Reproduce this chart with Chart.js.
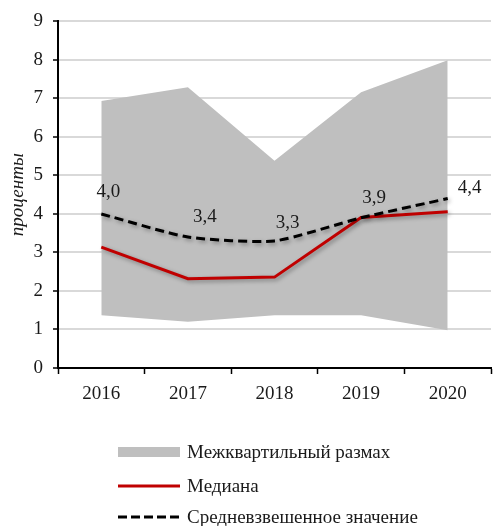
<!DOCTYPE html>
<html>
<head>
<meta charset="utf-8">
<script src="https://cdn.jsdelivr.net/npm/chart.js@4.4.1/dist/chart.umd.min.js"></script>
<style>
  html, body { margin: 0; padding: 0; background: #fff; }
  #wrap { width: 493px; height: 526px; }
</style>
</head>
<body>
<div id="wrap"><canvas id="chart"></canvas></div>
<script>
// values
const years = ["2016", "2017", "2018", "2019", "2020"];
const quartileLow = [1.37, 1.2, 1.37, 1.37, 0.98];
const quartileHigh = [6.93, 7.29, 5.38, 7.16, 7.99];
const medianValues = [3.14, 2.32, 2.36, 3.91, 4.06];
const meanValues = [4.0, 3.4, 3.3, 3.9, 4.4];
const yMin = 0, yMax = 9, yStep = 1;

const legendNames = ["Межквартильный размах", "Медиана", "Средневзвешенное значение"];
const axisTitle = "проценты";

const FONT = "'Liberation Serif', 'Times New Roman', serif";
const GREY = "#bfbfbf";
const RED = "#c00000";
const TEXT = "#1a1a1a";

// label nudges (Excel placed them by hand)
const labelShift = [[7, -22], [17, -20], [13, -18], [13, -20], [22, -11]];

const shadowPlugin = {
    id: "lineShadow",
    beforeDatasetDraw(chart, args) {
        if (args.index < 2) return;
        const ctx = chart.ctx;
        ctx.save();
        ctx.shadowColor = "rgba(0,0,0,0.35)";
        ctx.shadowBlur = 4;
        ctx.shadowOffsetX = 2;
        ctx.shadowOffsetY = 2;
    },
    afterDatasetDraw(chart, args) {
        if (args.index < 2) return;
        chart.ctx.restore();
    }
};

const extrasPlugin = {
    id: "extras",
    afterDraw(chart) {
        const ctx = chart.ctx;
        ctx.save();

        // mean value labels
        const meta = chart.getDatasetMeta(3);
        ctx.font = "19px " + FONT;
        ctx.fillStyle = TEXT;
        ctx.textAlign = "center";
        ctx.textBaseline = "middle";
        meta.data.forEach((pt, i) => {
            const s = labelShift[i];
            ctx.fillText(meanValues[i].toFixed(1).replace(".", ","), pt.x + s[0], pt.y + s[1]);
        });

        // y axis title
        ctx.save();
        ctx.translate(18, (chart.chartArea.top + chart.chartArea.bottom) / 2);
        ctx.rotate(-Math.PI / 2);
        ctx.font = "italic 19px " + FONT;
        ctx.fillText(axisTitle, 0, 0);
        ctx.restore();

        // legend
        const lx = 118, lw = 62, tx = 187;
        const rows = [452, 486, 517];
        ctx.textAlign = "left";
        ctx.font = "19px " + FONT;

        ctx.fillStyle = GREY;
        ctx.fillRect(lx, rows[0] - 5, lw, 10);

        ctx.strokeStyle = RED;
        ctx.lineWidth = 3;
        ctx.beginPath();
        ctx.moveTo(lx, rows[1]);
        ctx.lineTo(lx + lw, rows[1]);
        ctx.stroke();

        ctx.strokeStyle = "#000";
        ctx.setLineDash([9, 4]);
        ctx.beginPath();
        ctx.moveTo(lx, rows[2]);
        ctx.lineTo(lx + lw, rows[2]);
        ctx.stroke();
        ctx.setLineDash([]);

        ctx.fillStyle = TEXT;
        legendNames.forEach((name, i) => ctx.fillText(name, tx, rows[i] + 1));

        ctx.restore();
    }
};

const ctx = document.getElementById("chart");
new Chart(ctx, {
    type: "line",
    data: {
        labels: years,
        datasets: [
            {
                label: "q1",
                data: quartileLow,
                borderWidth: 0,
                pointRadius: 0,
                fill: false,
                order: 3
            },
            {
                label: legendNames[0],
                data: quartileHigh,
                borderWidth: 0,
                pointRadius: 0,
                backgroundColor: GREY,
                fill: "-1",
                order: 2
            },
            {
                label: legendNames[1],
                data: medianValues,
                borderColor: RED,
                borderWidth: 3,
                pointRadius: 0,
                fill: false,
                order: 1
            },
            {
                label: legendNames[2],
                data: meanValues,
                borderColor: "#000",
                borderWidth: 3,
                borderDash: [9, 5],
                pointRadius: 0,
                tension: 0.2,
                fill: false,
                order: 0
            }
        ]
    },
    options: {
        responsive: true,
        maintainAspectRatio: false,
        animation: false,
        layout: { padding: { left: 0, right: 2, top: 20, bottom: 0 } },
        plugins: {
            legend: { display: false },
            tooltip: { enabled: false }
        },
        scales: {
            x: {
                offset: true,
                grid: {
                    offset: true,
                    drawOnChartArea: false,
                    drawTicks: true,
                    tickLength: 6,
                    tickColor: "#000",
                    tickWidth: 1.5
                },
                border: { color: "#000", width: 2 },
                ticks: {
                    color: TEXT,
                    font: { family: FONT, size: 19 },
                    padding: 9,
                    maxRotation: 0
                },
                afterFit(s) { s.height = 158; }
            },
            y: {
                min: yMin,
                max: yMax,
                ticks: {
                    stepSize: yStep,
                    color: TEXT,
                    font: { family: FONT, size: 19 },
                    padding: 10
                },
                grid: {
                    color: "#d9d9d9",
                    lineWidth: 2,
                    tickLength: 5,
                    tickColor: "#000",
                    tickWidth: 1.5
                },
                border: { color: "#000", width: 2 },
                afterFit(s) { s.width = 58; }
            }
        }
    },
    plugins: [shadowPlugin, extrasPlugin]
});
</script>
</body>
</html>
